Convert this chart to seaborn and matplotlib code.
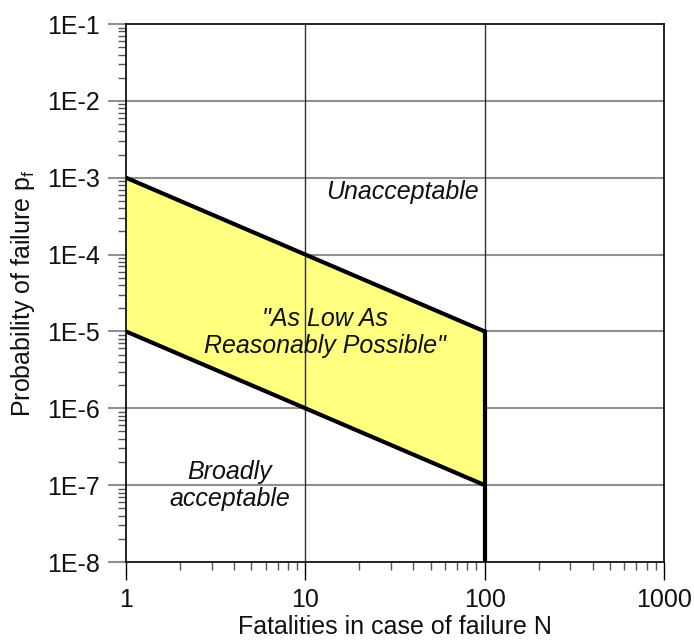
import matplotlib
matplotlib.use("Agg")
import matplotlib.pyplot as plt
import matplotlib.ticker as mticker
import numpy as np
import pandas as pd
import seaborn as sns

# F-N risk criterion lines
fatalities = [1, 100]
upper_limit = [1e-3, 1e-5]
lower_limit = [1e-5, 1e-7]
cutoff_n = [100, 100]
cutoff_p = [1e-5, 1e-8]

x_ticks = [1, 10, 100, 1000]
x_labels = ["1", "10", "100", "1000"]
y_ticks = [1e-8, 1e-7, 1e-6, 1e-5, 1e-4, 1e-3, 1e-2, 1e-1]
y_labels = ["1E-8", "1E-7", "1E-6", "1E-5", "1E-4", "1E-3", "1E-2", "1E-1"]

sns.set_theme(style="white")
plt.rcParams["font.family"] = ["Liberation Sans", "DejaVu Sans"]
plt.rcParams["mathtext.fontset"] = "custom"
plt.rcParams["mathtext.rm"] = "Liberation Sans"

fig = plt.figure(figsize=(6.94, 6.41), dpi=100)
ax = fig.add_axes([126 / 694, 1 - 562 / 641, (664 - 126) / 694, (562 - 24) / 641])

ax.set_xscale("log")
ax.set_yscale("log")
ax.set_xlim(1, 1000)
ax.set_ylim(1e-8, 1e-1)

# tolerable region
ax.fill_between(fatalities, lower_limit, upper_limit, color="#FFFF80", zorder=1, linewidth=0)

# grid
for yv in y_ticks[1:-1]:
    ax.axhline(yv, color="#909090", lw=1.5, zorder=0.5)
for xv in x_ticks[1:-1]:
    ax.axvline(xv, color="#303030", lw=1.0, zorder=2)

lines = pd.DataFrame({
    "N": fatalities * 2 + cutoff_n,
    "p": upper_limit + lower_limit + cutoff_p,
    "line": ["upper"] * 2 + ["lower"] * 2 + ["cutoff"] * 2,
})
sns.lineplot(data=lines, x="N", y="p", units="line", estimator=None,
             color="black", lw=3, ax=ax, zorder=3, sort=False)

ax.set_xticks(x_ticks)
ax.set_xticklabels(x_labels)
ax.set_yticks(y_ticks)
ax.set_yticklabels(y_labels)
ax.xaxis.set_minor_locator(mticker.LogLocator(base=10, subs=np.arange(2, 10)))
ax.yaxis.set_minor_locator(mticker.LogLocator(base=10, subs=np.arange(2, 10), numticks=20))
ax.xaxis.set_minor_formatter(mticker.NullFormatter())
ax.yaxis.set_minor_formatter(mticker.NullFormatter())

ax.tick_params(axis="both", which="major", direction="out", length=13, width=1,
               color="black", labelsize=18, pad=6, labelcolor="#111111")
ax.tick_params(axis="y", which="major", color="#909090", width=1.5)
ax.tick_params(axis="both", which="minor", direction="out", length=6, width=1, color="#555555")
ax.tick_params(left=True, bottom=True, which="both")

for s in ax.spines.values():
    s.set_color("black")
    s.set_linewidth(1.2)

ax.set_xlabel("Fatalities in case of failure N", fontsize=18, labelpad=2, color="#111111")
ax.set_ylabel(r"Probability of failure p$_\mathregular{f}$", fontsize=18, labelpad=7, color="#111111")

txt = dict(fontsize=18, style="italic", color="#111111", ha="center", va="center", zorder=4)
ax.text(35, 6.5e-4, "Unacceptable", **txt)
ax.text(12.9, 9.8e-6, "\"As Low As\nReasonably Possible\"", linespacing=1.15, **txt)
ax.text(3.8, 1.0e-7, "Broadly\nacceptable", linespacing=1.15, **txt)

fig.savefig("out.png", dpi=100)
